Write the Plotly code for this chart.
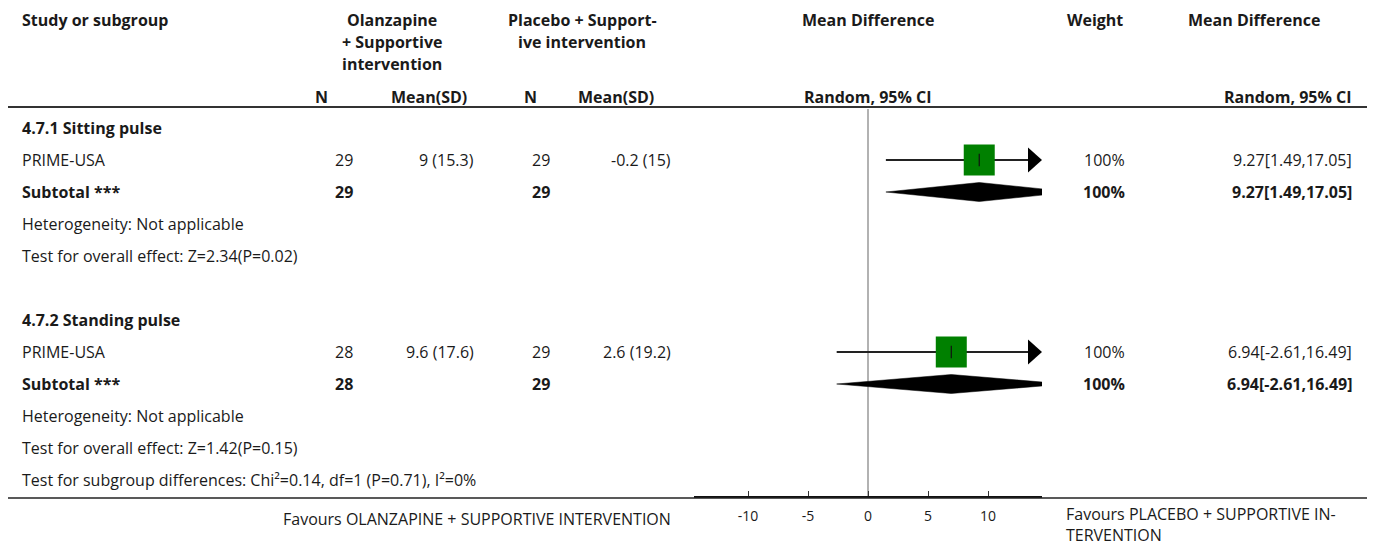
import plotly.graph_objects as go

# ---------------- data ----------------
subgroups = ["4.7.1 Sitting pulse", "4.7.2 Standing pulse"]
studies = ["PRIME-USA", "PRIME-USA"]
olz_n = [29, 28]
olz_mean = [9, 9.6]
olz_sd = [15.3, 17.6]
pla_n = [29, 29]
pla_mean = [-0.2, 2.6]
pla_sd = [15, 19.2]
md = [9.27, 6.94]
ci_low = [1.49, -2.61]
ci_high = [17.05, 16.49]
weight = [100, 100]
heterogeneity = ["Not applicable", "Not applicable"]
overall_effect = ["Z=2.34(P=0.02)", "Z=1.42(P=0.15)"]
subgroup_test = "Chi²=0.14, df=1 (P=0.71), I²=0%"
tick_vals = [-10, -5, 0, 5, 10]
tick_text = ["-10", "-5", "0", "5", "10"]
x_range = [-14.5, 14.5]
favours_left = "Favours OLANZAPINE + SUPPORTIVE INTERVENTION"
favours_right = "Favours PLACEBO + SUPPORTIVE IN-<br>TERVENTION"

# ---------------- layout helpers ----------------
OFF = 8                     # page body margin
W, H = 1375 - OFF, 549 - OFF
ROW0_PX, ROW_PX = 128, 32
FONT = "'Open Sans', 'Noto Sans', sans-serif"
TXT = "#1a1a1a"
FS = 16
PAD = 2                     # annotation border+pad offset


def px(x):
    return (x - OFF) / W


def py(y):
    return 1 - (y - OFF) / H


def row_of_px(y):
    return (y - ROW0_PX) / ROW_PX


fig = go.Figure()
ann = []


def text(x, row, s, anchor="left", bold=False, yref="y", size=FS):
    if anchor == "left":
        x -= PAD
    elif anchor == "right":
        x += PAD
    ann.append(dict(x=px(x), xref="paper", y=row, yref=yref, text=f"<b>{s}</b>" if bold else s,
                    showarrow=False, xanchor=anchor, yanchor="middle",
                    font=dict(family=FONT, size=size, color=TXT)))


# headers (paper y)
text(22, py(20), "Study or subgroup", bold=True, yref="paper")
text(392, py(20), "Olanzapine", "center", True, "paper")
text(392, py(42), "+ Supportive", "center", True, "paper")
text(392, py(64), "intervention", "center", True, "paper")
text(582, py(20), "Placebo + Support-", "center", True, "paper")
text(582, py(42), "ive intervention", "center", True, "paper")
text(868, py(20), "Mean Difference", "center", True, "paper")
text(1095, py(20), "Weight", "center", True, "paper")
text(1254, py(20), "Mean Difference", "center", True, "paper")
text(321, py(97), "N", "center", True, "paper")
text(429, py(97), "Mean(SD)", "center", True, "paper")
text(530, py(97), "N", "center", True, "paper")
text(616, py(97), "Mean(SD)", "center", True, "paper")
text(868, py(97), "Random, 95% CI", "center", True, "paper")
text(1352, py(97), "Random, 95% CI", "right", True, "paper")

xmin, xmax = x_range
arrow_w = 14 / 12.0      # data units (~14 px)
arrow_h = 12.5 / ROW_PX  # row units
diam_h = 9.5 / ROW_PX

for g in range(len(subgroups)):
    base = 6 * g
    text(22, base, subgroups[g], bold=True)
    r = base + 1
    text(22, r, studies[g])
    text(353, r, f"{olz_n[g]}", "right")
    text(474, r, f"{olz_mean[g]:g} ({olz_sd[g]:g})", "right")
    text(550, r, f"{pla_n[g]}", "right")
    text(671, r, f"{pla_mean[g]:g} ({pla_sd[g]:g})", "right")
    text(1125, r, f"{weight[g]:g}%", "right")
    text(1352, r, f"{md[g]:.2f}[{ci_low[g]:.2f},{ci_high[g]:.2f}]", "right")
    s = base + 2
    text(22, s, "Subtotal ***", bold=True)
    text(353, s, f"{olz_n[g]}", "right", True)
    text(550, s, f"{pla_n[g]}", "right", True)
    text(1125, s, f"{weight[g]:g}%", "right", True)
    text(1352, s, f"{md[g]:.2f}[{ci_low[g]:.2f},{ci_high[g]:.2f}]", "right", True)
    text(22, base + 3, f"Heterogeneity: {heterogeneity[g]}")
    text(22, base + 4, f"Test for overall effect: {overall_effect[g]}")

    # CI line
    lo = max(ci_low[g], xmin)
    hi = min(ci_high[g], xmax)
    line_hi = hi - arrow_w * 0.5 if ci_high[g] > xmax else hi
    line_lo = lo + arrow_w * 0.5 if ci_low[g] < xmin else lo
    fig.add_trace(go.Scatter(x=[line_lo, line_hi], y=[r, r], mode="lines",
                             line=dict(color="#222", width=2), hoverinfo="skip"))
    if ci_high[g] > xmax:
        fig.add_trace(go.Scatter(x=[xmax - arrow_w, xmax, xmax - arrow_w, xmax - arrow_w],
                                 y=[r - arrow_h, r, r + arrow_h, r - arrow_h],
                                 mode="lines", fill="toself", fillcolor="black",
                                 line=dict(color="black", width=0), hoverinfo="skip"))
    if ci_low[g] < xmin:
        fig.add_trace(go.Scatter(x=[xmin + arrow_w, xmin, xmin + arrow_w, xmin + arrow_w],
                                 y=[r - arrow_h, r, r + arrow_h, r - arrow_h],
                                 mode="lines", fill="toself", fillcolor="black",
                                 line=dict(color="black", width=0), hoverinfo="skip"))
    # square
    fig.add_trace(go.Scatter(x=[md[g]], y=[r], mode="markers",
                             marker=dict(symbol="square", size=31 * (weight[g] / 100) ** 0.5,
                                         color="#008000", line=dict(width=0)),
                             hoverinfo="skip"))
    fig.add_trace(go.Scatter(x=[md[g]], y=[r], mode="markers",
                             marker=dict(symbol="line-ns", size=9,
                                         line=dict(color="#111", width=1.2)),
                             hoverinfo="skip"))

    # diamond (truncated at axis limits)
    def half(xv):
        if xv >= md[g]:
            return diam_h * (ci_high[g] - xv) / (ci_high[g] - md[g])
        return diam_h * (xv - ci_low[g]) / (md[g] - ci_low[g])
    dx = [lo, md[g], hi, hi, md[g], lo, lo]
    dy = [s - half(lo), s - diam_h, s - half(hi), s + half(hi), s + diam_h, s + half(lo), s - half(lo)]
    fig.add_trace(go.Scatter(x=dx, y=dy, mode="lines", fill="toself", fillcolor="black",
                             line=dict(color="black", width=0.5), hoverinfo="skip"))

text(22, 11, f"Test for subgroup differences: {subgroup_test}")

# footer
text(671, py(519), favours_left, "right", yref="paper")
ann.append(dict(x=px(1066 - PAD), xref="paper", y=py(548), yref="paper", text=favours_right,
                showarrow=False, xanchor="left", yanchor="bottom", align="left",
                font=dict(family=FONT, size=FS, color=TXT)))

shapes = [
    dict(type="line", xref="paper", yref="paper", x0=px(2), x1=1, y0=py(107), y1=py(107),
         line=dict(color="#333", width=2)),
    dict(type="line", xref="paper", yref="paper", x0=px(6), x1=px(1370), y0=py(498), y1=py(498),
         line=dict(color="#222", width=1.5)),
    dict(type="line", xref="x", yref="paper", x0=0, x1=0, y0=py(497), y1=py(109),
         line=dict(color="#999", width=1.5), layer="below"),
]

fig.update_layout(
    width=W, height=H, margin=dict(l=0, r=0, t=0, b=0),
    paper_bgcolor="white", plot_bgcolor="rgba(0,0,0,0)",
    showlegend=False, annotations=ann, shapes=shapes,
    xaxis=dict(domain=[px(694), px(1042)], range=x_range, anchor="free", position=py(497),
               showline=True, linewidth=2, linecolor="#111", ticks="inside", ticklen=5,
               tickwidth=1, tickcolor="#333", tickvals=tick_vals, ticktext=tick_text,
               showgrid=False, zeroline=False,
               tickfont=dict(family=FONT, size=14, color=TXT), ticklabelstandoff=6,
               fixedrange=True),
    yaxis=dict(range=[row_of_px(549), row_of_px(OFF)], domain=[0, 1], visible=False,
               showgrid=False, zeroline=False, fixedrange=True),
)

fig.write_html("out.html")
